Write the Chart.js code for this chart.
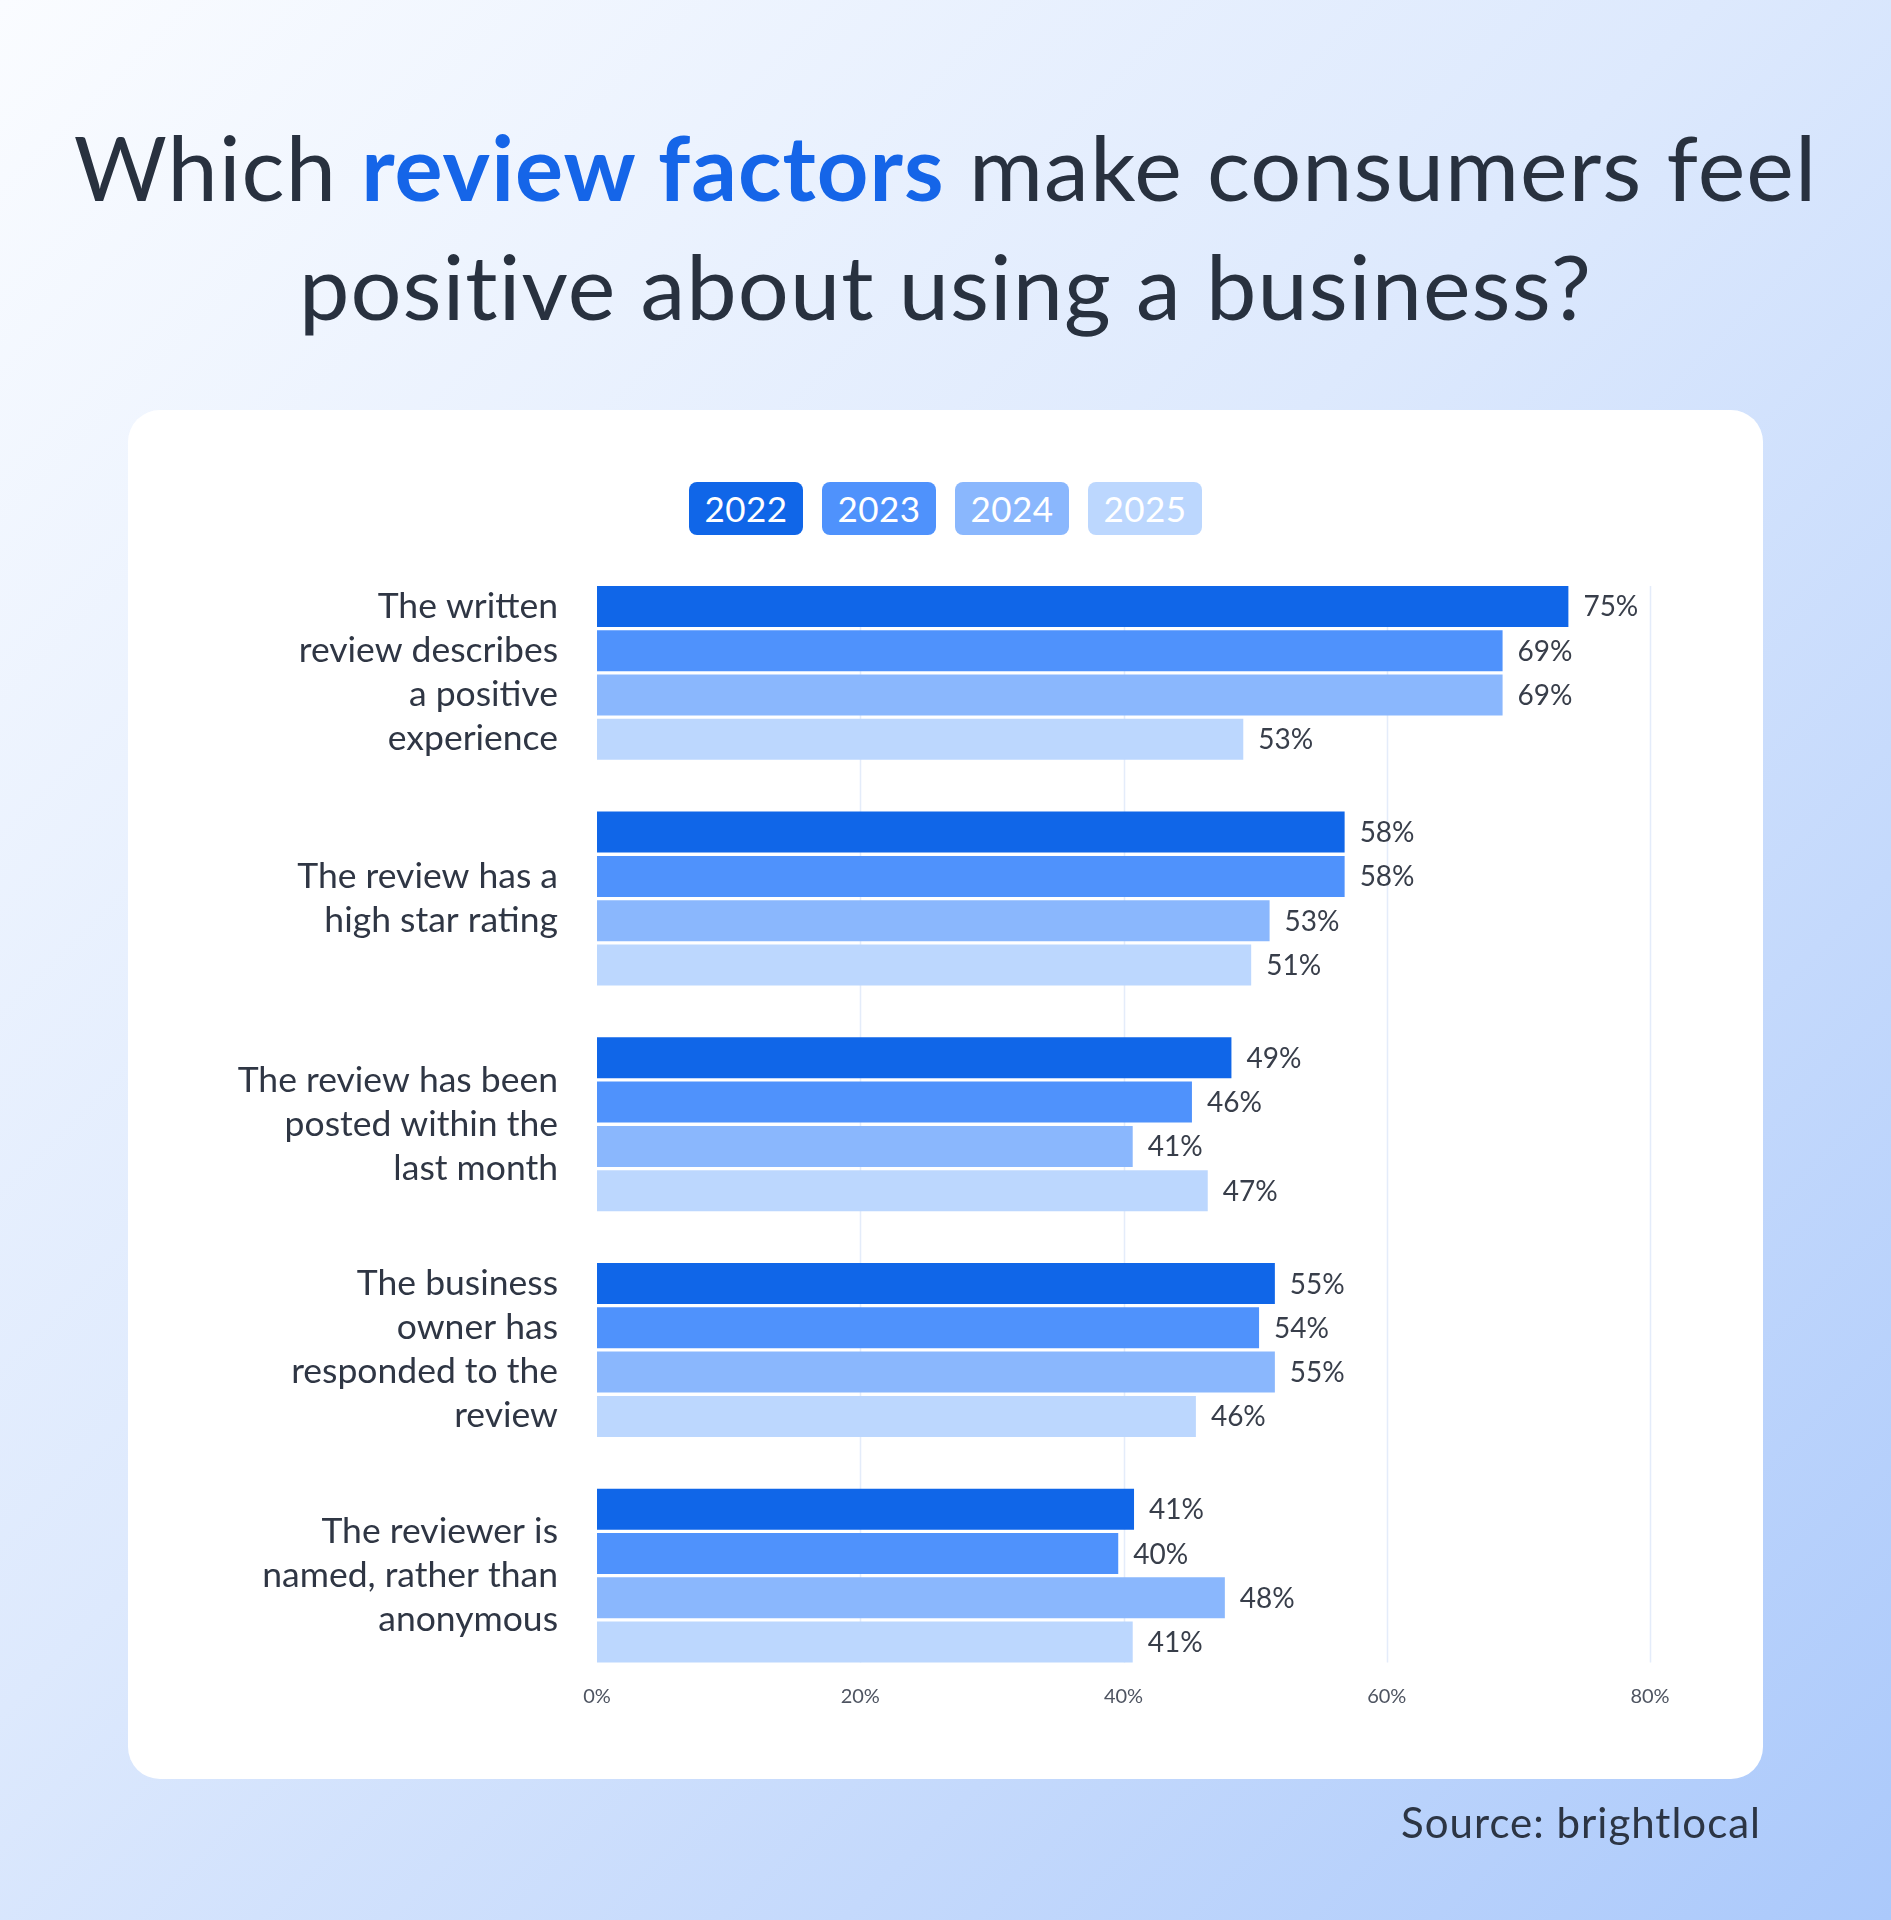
<!DOCTYPE html>
<html>
<head>
<meta charset="utf-8">
<script src="https://cdn.jsdelivr.net/npm/chart.js@4.4.1/dist/chart.umd.min.js"></script>
<style>
  html, body { margin: 0; padding: 0; }
  body {
    width: 1891px; height: 1920px; position: relative; overflow: hidden;
    font-family: Lato, "Open Sans", sans-serif;
    background: linear-gradient(135deg, #fafcff 0%, #dde9fd 45%, #abc9fb 100%);
  }
  .title {
    position: absolute; left: 0; width: 1891px; top: 107px;
    text-align: center; font-size: 90px; line-height: 119px; color: #28313f;
    letter-spacing: 1.1px;
  }
  .title b { color: #1565e8; font-weight: 700; }
  .card {
    position: absolute; left: 128px; top: 410px; width: 1635px; height: 1369px;
    background: #fff; border-radius: 32px;
  }
  .legend {
    position: absolute; top: 482px; left: 0; width: 1891px;
    display: flex; justify-content: center; gap: 19px;
  }
  .legend span {
    width: 114px; height: 53px; border-radius: 8px; color: #fff;
    font-size: 35px; line-height: 53px; text-align: center; letter-spacing: 0.5px;
  }
  .source {
    position: absolute; right: 130px; top: 1797px;
    font-size: 42px; color: #2c3544; letter-spacing: 1px;
  }
  #chart { position: absolute; left: 0; top: 0; }
</style>
</head>
<body>
<div class="title">Which <b>review factors</b> make consumers feel<br>positive about using a business?</div>
<div class="card"></div>
<div class="legend" id="legend"></div>
<canvas id="chart" width="1891" height="1920"></canvas>
<div class="source">Source: brightlocal</div>

<script>
const categories = [
  ['The written', 'review describes', 'a positive', 'experience'],
  ['The review has a', 'high star rating'],
  ['The review has been', 'posted within the', 'last month'],
  ['The business', 'owner has', 'responded to the', 'review'],
  ['The reviewer is', 'named, rather than', 'anonymous']
];
const years = ['2022', '2023', '2024', '2025'];
const colors = ['#1066e8', '#4f92fc', '#8ab7fd', '#bcd7fe'];

// bar lengths as drawn in the picture
const bars2022 = [73.8, 56.8, 48.2, 51.5, 40.8];
const bars2023 = [68.8, 56.8, 45.2, 50.3, 39.6];
const bars2024 = [68.8, 51.1, 40.7, 51.5, 47.7];
const bars2025 = [49.1, 49.7, 46.4, 45.5, 40.7];

// the numbers printed next to the bars
const labels2022 = ['75%', '58%', '49%', '55%', '41%'];
const labels2023 = ['69%', '58%', '46%', '54%', '40%'];
const labels2024 = ['69%', '53%', '41%', '55%', '48%'];
const labels2025 = ['53%', '51%', '47%', '46%', '41%'];

const xTicks = [0, 20, 40, 60, 80];

const seriesBars = [bars2022, bars2023, bars2024, bars2025];
const seriesLabels = [labels2022, labels2023, labels2024, labels2025];

// html legend boxes
const legendEl = document.getElementById('legend');
years.forEach((y, i) => {
  const s = document.createElement('span');
  s.textContent = y;
  s.style.background = colors[i];
  legendEl.appendChild(s);
});

// light vertical grid, only as tall as the bars
const gridLines = {
  id: 'gridLines',
  beforeDatasetsDraw(chart) {
    const ctx = chart.ctx;
    const x = chart.scales.x;
    const first = chart.getDatasetMeta(0).data[0];
    const last = chart.getDatasetMeta(3).data[categories.length - 1];
    const top = first.y - first.height / 2;
    const bottom = last.y + last.height / 2;
    ctx.save();
    ctx.strokeStyle = '#e4ecfa';
    ctx.lineWidth = 1.5;
    xTicks.slice(1).forEach(v => {
      const px = Math.round(x.getPixelForValue(v)) + 0.5;
      ctx.beginPath();
      ctx.moveTo(px, top);
      ctx.lineTo(px, bottom);
      ctx.stroke();
    });
    ctx.restore();
  }
};

const valueLabels = {
  id: 'valueLabels',
  afterDatasetsDraw(chart) {
    const ctx = chart.ctx;
    ctx.save();
    ctx.font = '28px Lato, sans-serif';
    ctx.fillStyle = '#383e4a';
    ctx.textAlign = 'left';
    ctx.textBaseline = 'middle';
    chart.data.datasets.forEach((ds, i) => {
      chart.getDatasetMeta(i).data.forEach((bar, j) => {
        ctx.fillText(seriesLabels[i][j], bar.x + 15, bar.y + 1);
      });
    });
    ctx.restore();
  }
};

new Chart(document.getElementById('chart').getContext('2d'), {
  type: 'bar',
  data: {
    labels: categories,
    datasets: years.map((y, i) => ({
      label: y,
      data: seriesBars[i],
      backgroundColor: colors[i],
      borderWidth: 0,
      categoryPercentage: 0.785,
      barPercentage: 0.925
    }))
  },
  options: {
    indexAxis: 'y',
    responsive: false,
    animation: false,
    devicePixelRatio: 1,
    layout: { padding: { top: 560, right: 241, bottom: 201.5, left: 0 } },
    plugins: {
      legend: { display: false },
      tooltip: { enabled: false }
    },
    scales: {
      x: {
        min: 0, max: 80,
        afterFit(s) { s.height = 30; },
        afterBuildTicks(s) { s.ticks = xTicks.map(v => ({ value: v })); },
        grid: { display: false, drawTicks: false },
        border: { display: false },
        ticks: {
          padding: -4,
          color: '#4e5461',
          font: { family: 'Lato, sans-serif', size: 20 },
          callback: v => v + '%'
        }
      },
      y: {
        afterFit(s) { s.width = 597; },
        grid: { display: false, drawTicks: false },
        border: { display: false },
        ticks: {
          padding: 39,
          color: '#2f3644',
          font: { family: 'Lato, sans-serif', size: 35.5, lineHeight: 1.24 }
        }
      }
    }
  },
  plugins: [gridLines, valueLabels]
});
</script>
</body>
</html>
